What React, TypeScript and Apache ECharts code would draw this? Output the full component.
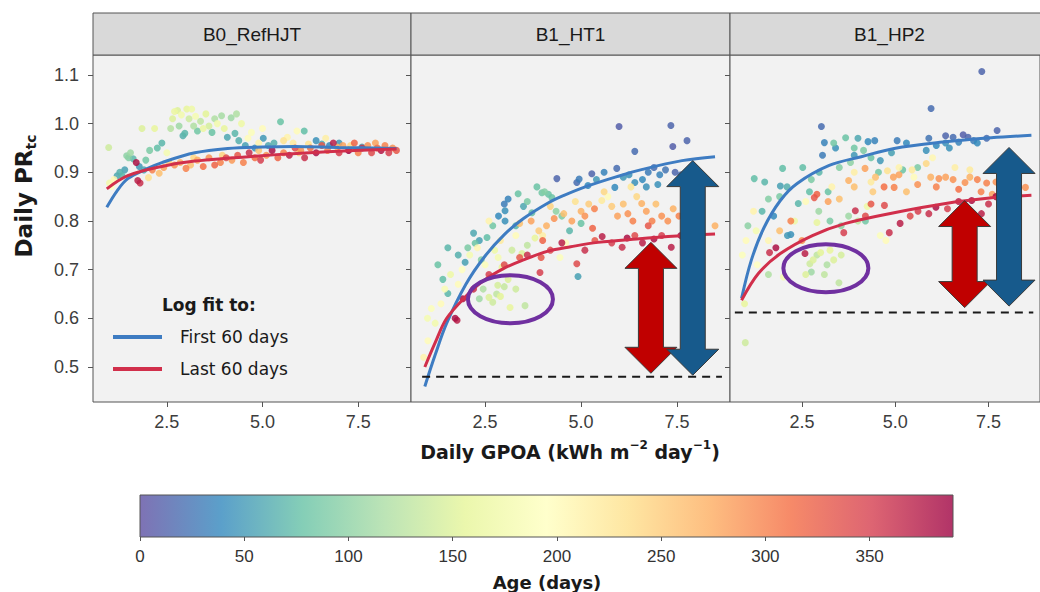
import { useEffect, useRef } from "react";
import * as echarts from "echarts";

// ---------- data ----------
const panelNames = ["B0_RefHJT", "B1_HT1", "B1_HP2"];
const xTicks = [2.5, 5.0, 7.5];
const yTicks = [0.5, 0.6, 0.7, 0.8, 0.9, 1.0, 1.1];
const ageTicks = [0, 50, 100, 150, 200, 250, 300, 350];
const legendTitle = "Log fit to:";
const legendItems = ["First 60 days", "Last 60 days"];

// [GPOA, PR, age]
const b0Points = [
  [0.98, 0.951, 140], [1.0, 0.878, 175], [1.05, 0.871, 195], [1.12, 0.885, 205], [1.2, 0.893, 60], [1.27, 0.9, 65],
  [1.33, 0.893, 70], [1.4, 0.905, 55], [1.45, 0.934, 100], [1.5, 0.93, 95], [1.55, 0.94, 110], [1.62, 0.928, 70],
  [1.7, 0.92, 380], [1.74, 0.883, 370], [1.8, 0.878, 360], [1.78, 0.912, 50], [1.85, 0.99, 150], [1.9, 0.905, 60],
  [1.95, 0.925, 85], [2.02, 0.889, 230], [2.05, 0.945, 90], [2.12, 0.905, 300], [2.18, 0.99, 160], [2.25, 0.95, 75],
  [2.3, 0.898, 260], [2.37, 0.96, 70], [2.42, 0.91, 280], [2.5, 0.94, 180], [2.55, 0.92, 250], [2.6, 0.99, 125],
  [2.65, 1.01, 150], [2.7, 1.025, 165], [2.78, 1.027, 150], [2.82, 0.995, 110], [2.88, 1.018, 175], [2.92, 0.975, 65],
  [2.97, 0.98, 70], [3.02, 1.03, 160], [3.08, 1.01, 140], [3.15, 1.03, 170], [3.2, 0.995, 120], [3.25, 1.015, 180],
  [3.3, 0.985, 85], [3.38, 1.005, 130], [3.45, 0.99, 165], [3.52, 1.02, 155], [3.6, 0.995, 145], [3.68, 0.982, 80],
  [3.75, 1.01, 120], [3.82, 1.0, 175], [3.93, 1.016, 115], [4.0, 0.99, 160], [4.08, 0.972, 60], [4.18, 1.012, 110],
  [4.28, 0.98, 70], [4.32, 1.02, 120], [4.38, 0.965, 65], [4.45, 1.0, 170], [4.55, 0.955, 55], [4.62, 0.97, 200],
  [4.71, 0.982, 190], [4.8, 0.95, 45], [4.9, 0.96, 210], [5.0, 0.99, 200], [5.02, 0.97, 50], [5.15, 0.955, 60],
  [5.3, 0.96, 65], [5.47, 1.004, 80], [5.55, 0.965, 230], [5.65, 0.972, 210], [5.8, 0.96, 220], [5.9, 0.985, 200],
  [6.09, 0.985, 75], [6.2, 0.958, 230], [6.4, 0.965, 45], [6.55, 0.958, 60], [6.65, 0.97, 215], [6.75, 0.955, 40],
  [7.0, 0.96, 50], [7.3, 0.955, 240], [7.6, 0.952, 55],
  [2.7, 0.915, 290], [2.85, 0.92, 270], [3.0, 0.908, 300], [3.12, 0.915, 260], [3.3, 0.925, 275], [3.45, 0.912, 310],
  [3.6, 0.93, 290], [3.75, 0.915, 320], [3.9, 0.92, 300], [4.05, 0.93, 340], [4.2, 0.925, 285], [4.35, 0.935, 330],
  [4.5, 0.92, 300], [4.65, 0.94, 360], [4.8, 0.93, 310], [4.95, 0.925, 350], [5.1, 0.935, 290], [5.25, 0.945, 380],
  [5.4, 0.93, 320], [5.55, 0.94, 300], [5.7, 0.935, 370], [5.85, 0.95, 340], [6.0, 0.945, 290], [6.1, 0.93, 360],
  [6.25, 0.95, 310], [6.4, 0.94, 380], [6.55, 0.955, 330], [6.7, 0.945, 300], [6.85, 0.96, 370], [7.0, 0.94, 350],
  [7.1, 0.955, 280], [7.25, 0.945, 390], [7.4, 0.96, 320], [7.5, 0.94, 300], [7.6, 0.95, 360], [7.75, 0.955, 290],
  [7.85, 0.94, 340], [8.0, 0.95, 310], [8.1, 0.945, 375], [8.2, 0.955, 300], [8.3, 0.94, 350], [8.4, 0.95, 290],
  [8.5, 0.945, 330], [7.95, 0.96, 280], [6.95, 0.952, 265], [5.95, 0.94, 250], [4.9, 0.945, 255], [3.95, 0.935, 245],
  [3.2, 0.93, 240],
];

const ht1Points = [
  [5.99, 0.994, 10], [7.34, 0.996, 15], [6.4, 0.943, 20], [7.39, 0.953, 10], [7.76, 0.965, 15],
  [4.37, 0.887, 15], [4.89, 0.879, 20], [4.95, 0.886, 30], [5.28, 0.897, 15], [5.18, 0.873, 40], [5.6, 0.9, 35],
  [5.93, 0.908, 20], [6.1, 0.89, 50], [6.25, 0.895, 45], [6.4, 0.879, 45], [6.6, 0.885, 40], [6.75, 0.9, 30],
  [6.9, 0.91, 20], [7.0, 0.875, 45], [7.05, 0.895, 35], [7.2, 0.905, 25], [7.45, 0.9, 15], [7.6, 0.895, 20],
  [5.88, 0.869, 40], [6.7, 0.87, 45], [5.4, 0.885, 50],
  [2.2, 0.775, 60], [2.35, 0.76, 55], [2.55, 0.766, 75], [2.24, 0.754, 80], [2.7, 0.79, 85], [2.85, 0.81, 40],
  [3.02, 0.821, 45], [3.02, 0.8, 45], [3.0, 0.835, 30], [3.1, 0.845, 35], [3.36, 0.856, 80], [3.3, 0.79, 70],
  [3.5, 0.83, 60], [3.6, 0.84, 90], [3.72, 0.817, 75], [3.85, 0.87, 80], [3.98, 0.858, 85], [4.05, 0.86, 95],
  [4.15, 0.855, 80], [4.24, 0.848, 80], [4.35, 0.82, 100], [4.5, 0.81, 90], [4.7, 0.78, 70], [4.92, 0.686, 55],
  [5.0, 0.795, 80], [1.53, 0.745, 70], [1.27, 0.71, 80], [1.98, 0.715, 55], [1.53, 0.651, 70], [1.8, 0.73, 65],
  [2.05, 0.745, 90], [2.4, 0.72, 95], [1.4, 0.68, 75],
  [0.9, 0.52, 210], [1.01, 0.554, 200], [1.0, 0.6, 180], [1.1, 0.62, 190], [1.2, 0.59, 175], [1.35, 0.63, 200],
  [1.45, 0.66, 185], [1.6, 0.69, 170], [1.8, 0.67, 200], [1.9, 0.7, 195], [2.1, 0.73, 180], [2.3, 0.745, 205],
  [2.5, 0.71, 190], [2.84, 0.725, 180], [2.75, 0.74, 170], [2.94, 0.705, 160], [3.2, 0.74, 140], [3.46, 0.733, 150],
  [3.6, 0.75, 130], [3.8, 0.765, 160], [3.3, 0.77, 200], [2.6, 0.8, 210], [2.9, 0.76, 220], [4.0, 0.77, 215],
  [4.45, 0.725, 190], [4.6, 0.755, 200],
  [2.6, 0.643, 150], [2.7, 0.633, 140], [2.8, 0.65, 130], [2.9, 0.645, 155], [3.15, 0.622, 160], [3.54, 0.626, 130],
  [2.83, 0.668, 145], [3.0, 0.665, 135], [3.1, 0.68, 150], [2.45, 0.66, 120], [3.3, 0.66, 140], [2.35, 0.64, 110],
  [3.4, 0.795, 260], [3.7, 0.8, 280], [3.9, 0.78, 250], [4.1, 0.79, 270], [4.3, 0.805, 290], [4.55, 0.815, 260],
  [4.76, 0.8, 280], [5.0, 0.82, 270], [5.1, 0.81, 290], [5.2, 0.835, 250], [5.35, 0.825, 300], [5.54, 0.842, 220],
  [5.7, 0.85, 200], [5.8, 0.83, 250], [5.95, 0.81, 280], [6.1, 0.835, 260], [6.22, 0.815, 290], [6.35, 0.8, 300],
  [6.45, 0.85, 240], [6.58, 0.836, 270], [6.7, 0.82, 280], [6.85, 0.8, 300], [6.95, 0.835, 260], [7.1, 0.81, 290],
  [7.26, 0.8, 290], [7.4, 0.825, 270], [7.55, 0.81, 300], [7.7, 0.82, 280], [7.85, 0.8, 290], [8.0, 0.81, 270],
  [8.49, 0.79, 270], [4.85, 0.84, 230], [5.6, 0.86, 240], [6.3, 0.87, 225], [4.2, 0.83, 245],
  [1.77, 0.596, 370], [1.72, 0.6, 380], [1.92, 0.64, 380], [2.2, 0.66, 360], [2.6, 0.69, 350], [3.0, 0.71, 340],
  [3.4, 0.725, 330], [3.6, 0.73, 360], [3.93, 0.694, 350], [3.96, 0.725, 330], [4.2, 0.74, 340], [4.5, 0.755, 370],
  [4.89, 0.712, 340], [5.1, 0.74, 360], [5.36, 0.76, 330], [5.55, 0.768, 370], [5.8, 0.755, 350], [6.07, 0.746, 360],
  [6.2, 0.765, 380], [6.4, 0.77, 340], [6.6, 0.755, 370], [6.9, 0.763, 380], [7.1, 0.77, 350], [7.35, 0.746, 370],
  [7.6, 0.77, 385], [4.0, 0.76, 320], [5.3, 0.785, 320], [6.75, 0.79, 330],
];

const hp2Points = [
  [7.32, 1.107, 15], [5.96, 1.031, 20], [3.02, 0.994, 20],
  [4.27, 0.963, 40], [4.45, 0.965, 35], [5.05, 0.965, 30], [5.3, 0.96, 40], [5.9, 0.97, 25], [6.35, 0.975, 15],
  [6.55, 0.972, 20], [6.82, 0.977, 10], [6.95, 0.972, 15], [7.1, 0.965, 30], [7.45, 0.97, 20], [7.73, 0.986, 15],
  [6.35, 0.96, 45], [6.45, 0.95, 45], [5.83, 0.945, 45], [6.1, 0.955, 40], [4.6, 0.924, 50], [3.1, 0.961, 35],
  [3.05, 0.935, 30], [3.4, 0.95, 45], [3.9, 0.935, 50], [4.0, 0.97, 60], [4.9, 0.94, 55], [6.7, 0.962, 35],
  [7.2, 0.96, 40],
  [3.67, 0.971, 80], [3.35, 0.96, 85], [3.9, 0.95, 85], [4.15, 0.945, 90], [4.35, 0.93, 80], [2.96, 0.9, 70],
  [2.52, 0.91, 75], [1.98, 0.908, 75], [1.22, 0.887, 75], [1.5, 0.88, 70], [1.92, 0.872, 55], [2.1, 0.87, 65],
  [2.4, 0.836, 70], [1.74, 0.81, 40], [1.43, 0.82, 70], [2.11, 0.77, 50], [2.2, 0.772, 45], [2.75, 0.885, 90],
  [3.5, 0.91, 95], [3.8, 0.92, 100], [4.55, 0.9, 85], [3.2, 0.86, 80], [2.7, 0.86, 75], [1.9, 0.85, 90],
  [1.6, 0.845, 95], [2.95, 0.82, 110], [3.25, 0.8, 90], [3.55, 0.79, 100], [4.2, 0.8, 85], [5.2, 0.905, 80],
  [5.6, 0.91, 90], [1.05, 0.79, 100],
  [0.9, 0.73, 190], [1.27, 0.78, 180], [1.2, 0.82, 210], [1.0, 0.76, 200], [1.3, 0.71, 195], [1.6, 0.76, 205],
  [2.0, 0.685, 180], [2.3, 0.8, 170], [2.6, 0.84, 200], [2.9, 0.797, 160], [3.75, 0.81, 110], [4.0, 0.8, 130],
  [4.25, 0.83, 170], [4.6, 0.77, 190], [4.75, 0.76, 200], [3.3, 0.87, 210], [3.9, 0.9, 215], [4.35, 0.88, 220],
  [5.1, 0.91, 210], [5.5, 0.89, 200], [6.0, 0.93, 205], [6.6, 0.91, 215], [7.0, 0.905, 220], [0.96, 0.63, 160],
  [0.98, 0.55, 140], [1.6, 0.69, 120],
  [2.71, 0.712, 140], [2.8, 0.72, 150], [2.9, 0.73, 130], [3.0, 0.735, 155], [3.17, 0.71, 120], [2.75, 0.695, 110],
  [2.6, 0.69, 150], [3.1, 0.69, 130], [3.49, 0.673, 130], [3.35, 0.72, 150], [3.55, 0.73, 145], [3.25, 0.74, 160],
  [3.75, 0.883, 270], [3.9, 0.87, 260], [4.19, 0.908, 280], [4.47, 0.89, 260], [4.79, 0.903, 230], [4.95, 0.89, 280],
  [5.1, 0.895, 280], [4.97, 0.869, 300], [4.7, 0.87, 310], [5.45, 0.905, 220], [5.83, 0.918, 240], [5.95, 0.89, 270],
  [6.17, 0.887, 290], [6.35, 0.89, 280], [6.55, 0.885, 290], [6.87, 0.879, 290], [7.0, 0.89, 270], [7.2, 0.885, 300],
  [7.45, 0.878, 300], [7.7, 0.88, 290], [7.9, 0.87, 280], [8.49, 0.869, 290], [6.1, 0.87, 300], [6.7, 0.865, 310],
  [7.3, 0.86, 300], [7.6, 0.855, 280], [5.6, 0.875, 290], [5.3, 0.86, 260], [4.4, 0.86, 250], [3.5, 0.845, 260],
  [3.2, 0.84, 280], [2.2, 0.8, 300], [2.5, 0.76, 290], [1.9, 0.78, 260],
  [1.63, 0.735, 360], [1.8, 0.745, 380], [2.58, 0.733, 370], [2.83, 0.848, 330], [2.9, 0.855, 320], [3.62, 0.776, 350],
  [3.93, 0.821, 360], [4.2, 0.81, 340], [4.71, 0.832, 340], [4.84, 0.776, 360], [5.13, 0.795, 370], [5.4, 0.81, 340],
  [5.61, 0.82, 350], [5.9, 0.815, 360], [6.09, 0.828, 380], [6.4, 0.825, 350], [6.7, 0.84, 370], [7.05, 0.842, 380],
  [7.31, 0.815, 370], [7.5, 0.835, 360], [7.7, 0.85, 385], [8.0, 0.84, 370], [8.3, 0.855, 350], [4.35, 0.835, 330],
];

// log-fit curves: [GPOA, PR]
const b0First = [[0.93, 0.828], [1.2, 0.862], [1.48, 0.887], [2.0, 0.908], [2.37, 0.92], [3.23, 0.94], [4.09, 0.949], [5.0, 0.952], [5.83, 0.953], [7.0, 0.951], [8.5, 0.949]];
const b0Last = [[0.93, 0.866], [1.48, 0.893], [2.37, 0.912], [3.23, 0.923], [4.97, 0.934], [6.69, 0.942], [8.5, 0.948]];
const ht1First = [[0.93, 0.46], [1.2, 0.525], [1.5, 0.59], [2.0, 0.67], [2.5, 0.728], [3.0, 0.772], [3.5, 0.805], [4.14, 0.837], [4.54, 0.852], [5.18, 0.872], [5.93, 0.891], [6.6, 0.906], [7.63, 0.924], [8.49, 0.932]];
const ht1Last = [[0.93, 0.5], [1.2, 0.55], [1.5, 0.6], [2.0, 0.645], [2.42, 0.675], [3.0, 0.703], [3.5, 0.72], [4.14, 0.738], [4.73, 0.747], [5.44, 0.756], [6.45, 0.763], [7.5, 0.769], [8.49, 0.773]];
const hp2First = [[0.88, 0.641], [1.14, 0.719], [1.48, 0.786], [1.92, 0.842], [2.37, 0.877], [3.23, 0.914], [4.09, 0.932], [4.97, 0.949], [6.27, 0.962], [7.57, 0.971], [8.65, 0.976]];
const hp2Last = [[0.88, 0.637], [1.33, 0.692], [1.92, 0.733], [2.78, 0.77], [3.67, 0.795], [4.97, 0.817], [6.27, 0.835], [7.65, 0.848], [8.65, 0.853]];

// dashed reference lines [GPOA, PR]
const ht1Dash = [[0.86, 0.48], [8.67, 0.48]];
const hp2Dash = [[0.7, 0.612], [8.7, 0.612]];

// double arrows [GPOA, PR low tip, PR high tip]; first red, second blue
const ht1Arrows = [[6.82, 0.487, 0.756], [7.91, 0.483, 0.924]];
const hp2Arrows = [[6.86, 0.622, 0.842], [8.05, 0.625, 0.951]];

// ellipse centres [GPOA, PR]
const ht1Ellipse = [[3.16, 0.639]];
const hp2Ellipse = [[3.14, 0.703]];

const spectral = ["#5e4fa2", "#3288bd", "#66c2a5", "#abdda4", "#e6f598", "#ffffbf", "#fee08b", "#fdae61", "#f46d43", "#d53e4f", "#9e0142"];

// ---------- layout / style ----------
const GRID_LEFT = [93, 411, 730];
const GRID_W = [318, 319, 319];
const GRID_TOP = 55;
const GRID_H = 347;
const BLUE = "#3e7cc2";
const RED = "#d12f4b";
const ARROW_COLORS = ["#c00000", "#175a8c"];
const SANS = "Liberation Sans";
const TITLE = "DejaVu Sans";

function arrowRender(params: any, api: any) {
  const x = api.value(0);
  const lo = api.coord([x, api.value(1)]);
  const hi = api.coord([x, api.value(2)]);
  const cx = hi[0];
  const ty = hi[1];
  const by = lo[1];
  const sw = 12.5, hw = 26, hl = 26;
  return {
    type: "polygon",
    shape: {
      points: [
        [cx, ty], [cx + hw, ty + hl], [cx + sw, ty + hl], [cx + sw, by - hl], [cx + hw, by - hl],
        [cx, by], [cx - hw, by - hl], [cx - sw, by - hl], [cx - sw, ty + hl], [cx - hw, ty + hl],
      ],
    },
    style: { fill: ARROW_COLORS[params.dataIndex], stroke: "#3a3a3a", lineWidth: 1 },
  };
}

function ellipseRender(_params: any, api: any) {
  const c = api.coord([api.value(0), api.value(1)]);
  return {
    type: "ellipse",
    shape: { cx: c[0], cy: c[1], rx: 42.5, ry: 24 },
    style: { fill: "none", stroke: "#7030a0", lineWidth: 4 },
  };
}

export default function App() {
  const ref = useRef<HTMLDivElement>(null);

  useEffect(() => {
    if (!ref.current) return;
    const chart = echarts.init(ref.current, undefined, { renderer: "svg" });

    const grids: any[] = GRID_LEFT.map((l, i) => ({
      left: l, top: GRID_TOP, width: GRID_W[i], height: GRID_H,
      show: true, backgroundColor: "#f2f2f2", borderColor: "#555", borderWidth: 1,
    }));
    grids.push({ left: 140, top: 495, width: 813, height: 42, show: false });

    const xAxes: any[] = [0, 1, 2].map((i) => ({
      type: "value", gridIndex: i, min: 0.57, max: 8.88,
      axisLine: { show: false },
      axisTick: { show: true, length: 5, lineStyle: { color: "#555" }, customValues: xTicks },
      axisLabel: { show: true, customValues: xTicks, formatter: (v: number) => v.toFixed(1), fontSize: 18, color: "#3d3d3d", margin: 11, fontFamily: SANS },
      splitLine: { show: false },
    }));
    xAxes.push({
      type: "value", gridIndex: 3, min: 0, max: 390,
      axisLine: { show: false },
      axisTick: { show: true, length: 4, lineStyle: { color: "#555" }, customValues: ageTicks },
      axisLabel: { show: true, customValues: ageTicks, formatter: (v: number) => String(v), fontSize: 17, color: "#333", margin: 11, fontFamily: SANS },
      splitLine: { show: false },
    });

    const yAxes: any[] = [0, 1, 2].map((i) => ({
      type: "value", gridIndex: i, min: 0.428, max: 1.141,
      axisLine: { show: false },
      axisTick: { show: true, length: 5, lineStyle: { color: "#555" }, customValues: yTicks },
      axisLabel: { show: i === 0, customValues: yTicks, formatter: (v: number) => v.toFixed(1), fontSize: 18, color: "#3d3d3d", margin: 14, fontFamily: SANS },
      splitLine: { show: false },
    }));
    yAxes.push({ type: "value", gridIndex: 3, min: 0, max: 1, show: false });

    const pointSets = [b0Points, ht1Points, hp2Points];
    const firsts = [b0First, ht1First, hp2First];
    const lasts = [b0Last, ht1Last, hp2Last];

    const series: any[] = [];
    pointSets.forEach((pts, i) => {
      series.push({
        type: "scatter", xAxisIndex: i, yAxisIndex: i,
        data: [...pts].sort((a, b) => a[2] - b[2]),
        symbolSize: 7, itemStyle: { opacity: 0.85 }, z: 2,
      });
    });
    [0, 1, 2].forEach((i) => {
      series.push({
        type: "line", name: legendItems[0], xAxisIndex: i, yAxisIndex: i, data: firsts[i],
        smooth: 0.35, showSymbol: false, lineStyle: { width: 3, color: BLUE }, itemStyle: { color: BLUE }, z: 3,
      });
      series.push({
        type: "line", name: legendItems[1], xAxisIndex: i, yAxisIndex: i, data: lasts[i],
        smooth: 0.35, showSymbol: false, lineStyle: { width: 3, color: RED }, itemStyle: { color: RED }, z: 3,
      });
    });
    [[1, ht1Dash], [2, hp2Dash]].forEach(([i, d]: any) => {
      series.push({
        type: "line", xAxisIndex: i, yAxisIndex: i, data: d, showSymbol: false,
        lineStyle: { width: 2, color: "#1a1a1a", type: [8, 6] }, itemStyle: { color: "#1a1a1a" }, z: 4,
      });
    });
    [[1, ht1Arrows], [2, hp2Arrows]].forEach(([i, d]: any) => {
      series.push({ type: "custom", xAxisIndex: i, yAxisIndex: i, data: d, renderItem: arrowRender, z: 5 });
    });
    [[1, ht1Ellipse], [2, hp2Ellipse]].forEach(([i, d]: any) => {
      series.push({ type: "custom", xAxisIndex: i, yAxisIndex: i, data: d, renderItem: ellipseRender, z: 6 });
    });

    const graphic: any[] = [];
    GRID_LEFT.forEach((l, i) => {
      graphic.push({
        type: "rect", shape: { x: l, y: 13, width: GRID_W[i], height: 42 },
        style: { fill: "#d9d9d9", stroke: "#555", lineWidth: 1 }, z: 10,
      });
      graphic.push({
        type: "text", x: l + GRID_W[i] / 2, y: 34, z: 11,
        style: { text: panelNames[i], fontSize: 19, fontFamily: SANS, fill: "#1a1a1a", align: "center", verticalAlign: "middle", textAlign: "center", textVerticalAlign: "middle" },
      });
    });
    // y title
    graphic.push({
      type: "text", x: 24, y: 196, rotation: Math.PI / 2, z: 20,
      style: {
        text: "{a|Daily PR}{b|tc}",
        align: "center", verticalAlign: "middle", textAlign: "center", textVerticalAlign: "middle",
        rich: {
          a: { fontSize: 23, fontWeight: "bold", fontFamily: TITLE, fill: "#1a1a1a", color: "#1a1a1a", lineHeight: 28 },
          b: { fontSize: 14, fontWeight: "bold", fontFamily: TITLE, fill: "#1a1a1a", color: "#1a1a1a", verticalAlign: "bottom", lineHeight: 16 },
        },
      },
    });
    // x title
    graphic.push({
      type: "text", x: 570, y: 452, z: 20,
      style: {
        text: "{t|Daily GPOA (kWh m}{s|−2}{t| day}{s|−1}{t|)}",
        align: "center", verticalAlign: "middle", textAlign: "center", textVerticalAlign: "middle",
        rich: {
          t: { fontSize: 19, fontWeight: "bold", fontFamily: TITLE, fill: "#1a1a1a", color: "#1a1a1a", lineHeight: 26 },
          s: { fontSize: 12, fontWeight: "bold", fontFamily: TITLE, fill: "#1a1a1a", color: "#1a1a1a", verticalAlign: "top", lineHeight: 14 },
        },
      },
    });
    // legend
    graphic.push({
      type: "text", x: 162, y: 305, z: 20,
      style: { text: legendTitle, fontSize: 17, fontWeight: "bold", fontFamily: TITLE, fill: "#1a1a1a", verticalAlign: "middle", textVerticalAlign: "middle" },
    });
    [BLUE, RED].forEach((c, k) => {
      const y = 337 + k * 32;
      graphic.push({ type: "line", z: 20, shape: { x1: 113, y1: y, x2: 162, y2: y }, style: { stroke: c, lineWidth: 4 } });
      graphic.push({
        type: "text", x: 180, y, z: 20,
        style: { text: legendItems[k], fontSize: 17, fontFamily: TITLE, fill: "#1a1a1a", verticalAlign: "middle", textVerticalAlign: "middle" },
      });
    });
    // colour bar
    graphic.push({
      type: "rect", z: 10, shape: { x: 140, y: 495, width: 813, height: 42 },
      style: {
        fill: new echarts.graphic.LinearGradient(0, 0, 1, 0, spectral.map((c, k) => ({ offset: k / (spectral.length - 1), color: c }))),
        opacity: 0.8,
      },
    });
    graphic.push({ type: "rect", z: 11, shape: { x: 140, y: 495, width: 813, height: 42 }, style: { fill: "none", stroke: "#555", lineWidth: 1 } });
    graphic.push({
      type: "text", x: 547, y: 582, z: 20,
      style: { text: "Age (days)", fontSize: 18, fontWeight: "bold", fontFamily: TITLE, fill: "#1a1a1a", align: "center", verticalAlign: "middle", textAlign: "center", textVerticalAlign: "middle" },
    });

    chart.setOption({
      animation: false,
      backgroundColor: "#ffffff",
      textStyle: { fontFamily: SANS },
      grid: grids,
      xAxis: xAxes,
      yAxis: yAxes,
      visualMap: {
        type: "continuous", show: false, min: 0, max: 390, dimension: 2,
        seriesIndex: [0, 1, 2], inRange: { color: spectral },
      },
      series,
      graphic,
    });

    return () => chart.dispose();
  }, []);

  return (
    <div
      ref={ref}
      style={{ position: "absolute", left: 0, top: 0, width: 1040, height: 592, background: "#fff" }}
    />
  );
}
